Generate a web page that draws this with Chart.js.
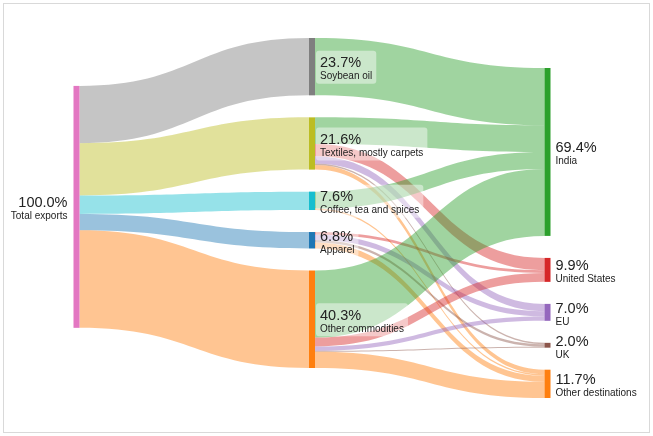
<!DOCTYPE html>
<html lang="en">

<head>
    <meta charset="UTF-8">
    <title>Exports Sankey</title>
    <script src="https://cdn.jsdelivr.net/npm/chart.js"></script>
    <style>
        body {
            margin: 0;
            background: #ffffff;
        }

        .chart-box {
            position: relative;
            width: 653px;
            height: 436px;
        }
    </style>
</head>

<body>
    <div class="chart-box">
        <canvas id="sankeyChart" width="653" height="436"></canvas>
    </div>

    <script>
        // nodes
        const nodeLabels = ['Total exports', 'Soybean oil', 'Textiles, mostly carpets', 'Coffee, tea and spices',
            'Apparel', 'Other commodities', 'India', 'United States', 'EU', 'UK', 'Other destinations'];
        const nodeColumns = [0, 1, 1, 1, 1, 1, 2, 2, 2, 2, 2];
        const nodeColors = ['#e377c2', '#7f7f7f', '#bcbd22', '#17becf', '#1f77b4', '#ff7f0e',
            '#2ca02c', '#d62728', '#9467bd', '#8c564b', '#ff7f0e'];

        // links (share of total exports, %)
        const linkSources = [0, 0, 0, 0, 0,
            1,
            2, 2, 2, 2, 2,
            3, 3,
            4, 4, 4, 4,
            5, 5, 5, 5, 5];
        const linkTargets = [1, 2, 3, 4, 5,
            6,
            6, 7, 8, 9, 10,
            6, 10,
            7, 8, 9, 10,
            6, 7, 8, 9, 10];
        const linkValues = [23.7, 21.6, 7.6, 6.8, 40.3,
            23.7,
            11.0, 5.1, 3.0, 0.6, 1.9,
            7.0, 0.6,
            1.1, 2.2, 1.0, 2.5,
            27.7, 3.7, 1.8, 0.4, 6.7];

        // layout, in % units
        const columnTops = [19.8, 0, 12.4];
        const nodeGap = 9.1;
        const nodeWidth = 6;
        const linkAlpha = 0.45;

        function hexToRgba(hex, a) {
            const n = parseInt(hex.slice(1), 16);
            return `rgba(${(n >> 16) & 255},${(n >> 8) & 255},${n & 255},${a})`;
        }

        function buildLayout() {
            const nodes = nodeLabels.map((label, i) => {
                let inSum = 0, outSum = 0;
                linkValues.forEach((v, k) => {
                    if (linkTargets[k] === i) inSum += v;
                    if (linkSources[k] === i) outSum += v;
                });
                return { label, col: nodeColumns[i], color: nodeColors[i], value: Math.max(inSum, outSum) };
            });

            const cursor = columnTops.slice();
            nodes.forEach(n => {
                n.y0 = cursor[n.col];
                n.y1 = n.y0 + n.value;
                cursor[n.col] = n.y1 + nodeGap;
            });

            const links = linkValues.map((v, k) => ({ s: linkSources[k], t: linkTargets[k], value: v }));

            nodes.forEach((n, i) => {
                let off = n.y0;
                links.filter(l => l.s === i)
                    .sort((a, b) => nodes[a.t].y0 - nodes[b.t].y0)
                    .forEach(l => { l.sy0 = off; off += l.value; l.sy1 = off; });
                off = n.y0;
                links.filter(l => l.t === i)
                    .sort((a, b) => nodes[a.s].y0 - nodes[b.s].y0)
                    .forEach(l => { l.ty0 = off; off += l.value; l.ty1 = off; });
            });
            return { nodes, links };
        }

        const sankeyPlugin = {
            id: 'sankey',
            beforeDraw(chart) {
                const ctx = chart.ctx;
                ctx.save();
                ctx.strokeStyle = '#d9d9d9';
                ctx.lineWidth = 1;
                ctx.strokeRect(3.5, 3.5, chart.width - 7, chart.height - 7);
                ctx.restore();
            },
            afterDatasetsDraw(chart) {
                const ctx = chart.ctx;
                const xs = chart.scales.x;
                const ys = chart.scales.y;
                const { nodes, links } = buildLayout();
                const py = v => ys.getPixelForValue(v);

                ctx.save();
                // flows
                links.forEach(l => {
                    const x0 = xs.getPixelForValue(nodes[l.s].col) + nodeWidth / 2;
                    const x1 = xs.getPixelForValue(nodes[l.t].col) - nodeWidth / 2;
                    const xm = (x0 + x1) / 2;
                    ctx.beginPath();
                    ctx.moveTo(x0, py(l.sy0));
                    ctx.bezierCurveTo(xm, py(l.sy0), xm, py(l.ty0), x1, py(l.ty0));
                    ctx.lineTo(x1, py(l.ty1));
                    ctx.bezierCurveTo(xm, py(l.ty1), xm, py(l.sy1), x0, py(l.sy1));
                    ctx.closePath();
                    ctx.fillStyle = hexToRgba(nodes[l.t].color, linkAlpha);
                    ctx.fill();
                });

                // nodes
                nodes.forEach(n => {
                    const xc = xs.getPixelForValue(n.col);
                    ctx.fillStyle = n.color;
                    ctx.fillRect(xc - nodeWidth / 2, py(n.y0), nodeWidth, py(n.y1) - py(n.y0));
                });

                // labels
                const pctFont = '14.5px "Liberation Sans", Arial, sans-serif';
                const nameFont = '10px "Liberation Sans", Arial, sans-serif';
                nodes.forEach(n => {
                    const xc = xs.getPixelForValue(n.col);
                    const yc = (py(n.y0) + py(n.y1)) / 2;
                    const pct = n.value.toFixed(1) + '%';
                    ctx.font = pctFont;
                    const w1 = ctx.measureText(pct).width;
                    ctx.font = nameFont;
                    const w2 = ctx.measureText(n.label).width;
                    const w = Math.max(w1, w2);

                    if (n.col === 0) {
                        ctx.textAlign = 'right';
                        const tx = xc - nodeWidth / 2 - 6;
                        ctx.fillStyle = '#222';
                        ctx.font = pctFont;
                        ctx.fillText(pct, tx, yc);
                        ctx.font = nameFont;
                        ctx.fillText(n.label, tx, yc + 12);
                        return;
                    }

                    const bx = xc + nodeWidth / 2 + 1;
                    const tx = xc + nodeWidth / 2 + 5;
                    ctx.fillStyle = 'rgba(255,255,255,0.45)';
                    ctx.beginPath();
                    ctx.roundRect(bx, yc - 16, tx - bx + w + 4, 33, 3);
                    ctx.fill();

                    ctx.textAlign = 'left';
                    ctx.fillStyle = '#222';
                    ctx.font = pctFont;
                    ctx.fillText(pct, tx, yc + 0.5);
                    ctx.font = nameFont;
                    ctx.fillText(n.label, tx, yc + 12.5);
                });
                ctx.restore();
            }
        };

        const ctx = document.getElementById('sankeyChart').getContext('2d');
        const sankeyChart = new Chart(ctx, {
            type: 'scatter',
            data: { datasets: [] },
            options: {
                responsive: false,
                animation: false,
                layout: {
                    padding: { left: 76.5, right: 105.5, top: 38, bottom: 38 }
                },
                plugins: {
                    legend: { display: false },
                    tooltip: { enabled: false }
                },
                scales: {
                    x: { type: 'linear', min: 0, max: 2, display: false },
                    y: { type: 'linear', min: 0, max: 148.8, reverse: true, display: false }
                }
            },
            plugins: [sankeyPlugin]
        });
    </script>
</body>

</html>
